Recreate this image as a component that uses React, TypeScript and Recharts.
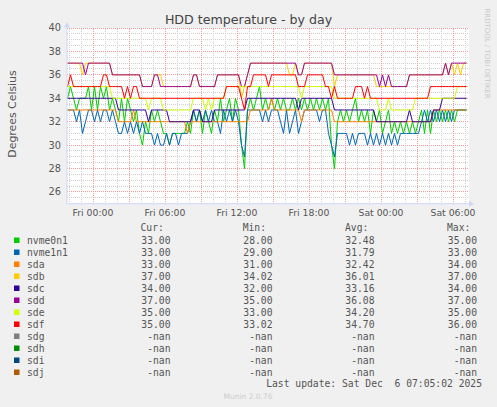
import {
  CartesianGrid,
  Line,
  LineChart,
  ReferenceDot,
  ReferenceLine,
  XAxis,
  YAxis,
} from "recharts";

const WIDTH = 497;
const HEIGHT = 407;

// hours relative to Fri 00:00, one sample every 15 minutes
const FIRST_SAMPLE_HOUR = -2.125;
const SAMPLE_STEP_HOURS = 0.25;
const X_DOMAIN: [number, number] = [-2.1667, 31.3333];
const Y_DOMAIN: [number, number] = [25, 40];

const timeTicks = [0, 6, 12, 18, 24, 30];
const timeLabels = ["Fri 00:00", "Fri 06:00", "Fri 12:00", "Fri 18:00", "Sat 00:00", "Sat 06:00"];
const tempTicks = [26, 28, 30, 32, 34, 36, 38, 40];

const majorHourGrid = [0, 3, 6, 9, 12, 15, 18, 21, 24, 27, 30];
const minorHourGrid = [-2, -1, 1, 2, 4, 5, 7, 8, 10, 11, 13, 14, 16, 17, 19, 20, 22, 23, 25, 26, 28, 29, 31];
const minorTempGrid = [
  25.5, 26.5, 27, 27.5, 28.5, 29, 29.5, 30.5, 31, 31.5, 32.5, 33, 33.5, 34.5, 35, 35.5, 36.5, 37, 37.5,
  38.5, 39, 39.5,
];

const nvme0n1 = [
  34, 35, 34, 33, 34, 34, 34, 35, 33, 35,
  33, 35, 34, 35, 33, 34, 33, 32, 34, 32,
  34, 33, 32, 33, 31, 30, 32, 31, 33, 32,
  33, 32, 31, 31, 30, 31, 31, 31, 31, 31,
  32, 31, 33, 32, 33, 31, 33, 32, 31, 33,
  32, 34, 32, 33, 34, 32, 34, 33, 30, 28,
  33, 34, 33, 34, 35, 33, 34, 33, 34, 33,
  34, 33, 34, 33, 33, 34, 33, 34, 33, 34,
  33, 34, 33, 34, 33, 34, 33, 34, 30, 28,
  32, 33, 32, 33, 32, 33, 34, 32, 33, 32,
  33, 31, 33, 32, 33, 31, 32, 33, 31, 32,
  31, 32, 31, 32, 31, 32, 31, 32, 33, 31,
  33, 31, 33, 32, 33, 32, 33, 32, 33, 32,
  33, 33, 33, 33,
];

const nvme1n1 = [
  33, 33, 33, 32, 33, 31, 32, 33, 33, 32,
  33, 32, 33, 33, 32, 33, 32, 31, 31, 32,
  31, 32, 31, 32, 31, 32, 31, 31, 31, 30,
  31, 30, 30, 31, 30, 31, 31, 30, 31, 31,
  31, 32, 33, 32, 33, 32, 33, 32, 33, 32,
  32, 31, 33, 32, 33, 32, 33, 32, 30, 29,
  33, 33, 33, 33, 33, 32, 33, 32, 33, 33,
  33, 32, 31, 33, 31, 32, 33, 31, 32, 33,
  33, 33, 33, 33, 32, 33, 33, 31, 30, 29,
  31, 31, 31, 31, 30, 31, 30, 31, 31, 31,
  30, 31, 30, 31, 30, 31, 30, 31, 30, 31,
  30, 31, 31, 31, 31, 31, 31, 31, 32, 33,
  32, 33, 32, 33, 32, 33, 32, 33, 32, 33,
  33, 33, 33, 33,
];

const sda = [
  33, 33, 33, 33, 33, 33, 33, 33, 33, 33,
  33, 33, 33, 33, 33, 33, 33, 32, 32, 32,
  32, 32, 33, 32, 32, 32, 32, 32, 32, 32,
  32, 32, 32, 32, 32, 32, 32, 32, 32, 32,
  31, 32, 32, 32, 32, 32, 32, 32, 32, 32,
  32, 32, 32, 32, 32, 32, 32, 32, 32, 32,
  32, 33, 33, 33, 33, 33, 33, 33, 34, 33,
  33, 33, 33, 33, 33, 33, 33, 33, 32, 33,
  33, 33, 33, 33, 33, 33, 33, 33, 33, 32,
  32, 32, 32, 32, 32, 32, 32, 32, 32, 32,
  32, 32, 32, 32, 32, 32, 32, 32, 32, 32,
  32, 32, 32, 32, 32, 32, 32, 32, 32, 32,
  32, 32, 33, 33, 33, 33, 33, 33, 33, 33,
  33, 33, 33, 33,
];

const sdb = [
  37, 37, 37, 37, 37, 36, 37, 37, 37, 37,
  37, 37, 37, 37, 37, 36, 36, 36, 36, 36,
  36, 36, 36, 36, 36, 35, 35, 35, 35, 36,
  36, 36, 35, 35, 35, 35, 35, 35, 35, 35,
  35, 35, 36, 36, 35, 35, 35, 35, 35, 35,
  36, 36, 36, 36, 36, 36, 36, 36, 34, 35,
  36, 37, 37, 37, 37, 37, 37, 37, 37, 37,
  37, 37, 37, 37, 36, 36, 37, 36, 36, 37,
  37, 37, 37, 37, 37, 37, 37, 37, 37, 35,
  36, 36, 36, 36, 36, 36, 36, 36, 36, 36,
  36, 36, 36, 35, 35, 35, 35, 35, 35, 35,
  35, 35, 35, 35, 36, 36, 36, 36, 36, 36,
  36, 36, 36, 36, 36, 36, 37, 36, 37, 36,
  37, 36, 37, 37,
];

const sdc = [
  34, 34, 34, 34, 34, 34, 34, 34, 34, 34,
  34, 34, 34, 34, 34, 34, 34, 33, 33, 33,
  33, 33, 33, 33, 33, 33, 33, 32, 33, 33,
  33, 33, 33, 33, 32, 32, 32, 32, 32, 32,
  32, 32, 33, 33, 33, 32, 32, 32, 32, 33,
  33, 33, 33, 33, 33, 33, 33, 33, 33, 33,
  34, 34, 34, 34, 34, 34, 34, 34, 34, 34,
  34, 34, 34, 34, 34, 34, 34, 33, 34, 34,
  34, 34, 34, 34, 34, 34, 34, 34, 34, 33,
  33, 33, 33, 33, 33, 33, 33, 33, 33, 33,
  33, 33, 33, 32, 32, 32, 32, 32, 32, 32,
  32, 32, 32, 32, 33, 32, 32, 32, 32, 32,
  32, 32, 33, 33, 33, 34, 34, 34, 34, 34,
  34, 34, 34, 34,
];

const sdd = [
  37, 37, 37, 37, 37, 37, 36, 37, 37, 37,
  37, 37, 37, 37, 37, 36, 36, 36, 36, 36,
  36, 36, 36, 36, 36, 35, 35, 35, 35, 36,
  36, 35, 35, 35, 35, 35, 35, 35, 35, 35,
  35, 35, 36, 36, 35, 35, 35, 35, 35, 35,
  36, 36, 36, 36, 36, 36, 36, 36, 35, 35,
  36, 37, 37, 37, 37, 37, 37, 37, 37, 37,
  37, 37, 37, 37, 37, 37, 37, 36, 36, 37,
  37, 37, 37, 37, 37, 37, 37, 37, 37, 36,
  36, 36, 36, 36, 36, 36, 36, 36, 36, 36,
  36, 36, 36, 36, 35, 36, 35, 36, 35, 35,
  35, 35, 35, 35, 36, 36, 36, 36, 36, 36,
  36, 36, 36, 36, 36, 36, 37, 36, 37, 37,
  37, 37, 37, 37,
];

const sde = [
  35, 35, 35, 35, 35, 35, 35, 35, 35, 35,
  35, 35, 35, 35, 35, 34, 34, 34, 34, 34,
  34, 34, 34, 34, 34, 34, 34, 33, 34, 34,
  34, 34, 33, 33, 33, 33, 33, 33, 33, 33,
  33, 33, 34, 34, 34, 34, 33, 34, 33, 34,
  34, 34, 34, 35, 35, 35, 35, 35, 35, 35,
  35, 35, 35, 35, 35, 35, 35, 35, 35, 35,
  35, 35, 35, 35, 35, 35, 35, 35, 34, 35,
  35, 35, 35, 35, 35, 35, 35, 35, 35, 34,
  34, 34, 34, 34, 34, 34, 34, 34, 34, 34,
  34, 34, 34, 34, 33, 33, 33, 34, 33, 33,
  33, 33, 33, 33, 33, 33, 34, 34, 34, 34,
  34, 34, 34, 34, 34, 34, 34, 34, 34, 34,
  35, 35, 35, 35,
];

const sdf = [
  35, 36, 35, 35, 35, 35, 35, 35, 35, 35,
  35, 35, 36, 36, 35, 35, 35, 35, 35, 34,
  35, 34, 35, 35, 34, 34, 34, 34, 34, 34,
  34, 34, 34, 34, 34, 34, 34, 34, 34, 34,
  34, 34, 34, 34, 34, 34, 34, 34, 34, 34,
  34, 34, 34, 35, 35, 35, 35, 35, 34, 33,
  35, 35, 36, 36, 36, 36, 36, 35, 36, 36,
  36, 36, 36, 36, 36, 36, 36, 35, 35, 35,
  36, 36, 36, 36, 36, 36, 35, 35, 34, 35,
  34, 34, 34, 34, 34, 34, 35, 35, 35, 34,
  35, 34, 34, 34, 34, 34, 34, 34, 34, 34,
  34, 34, 34, 34, 34, 34, 34, 34, 34, 34,
  34, 35, 35, 35, 35, 35, 35, 35, 35, 35,
  35, 35, 35, 35,
];

// legend table (sdg..sdj have no samples)
const legendNames = ["nvme0n1", "nvme1n1", "sda", "sdb", "sdc", "sdd", "sde", "sdf", "sdg", "sdh", "sdi", "sdj"];
const legendColors = [
  "#00cc00", "#0066b3", "#ff8000", "#ffcc00", "#330099", "#990099",
  "#ccff00", "#ff0000", "#808080", "#008f00", "#00487d", "#b35a00",
];
const curValues = ["33.00", "33.00", "33.00", "37.00", "34.00", "37.00", "35.00", "35.00", "-nan", "-nan", "-nan", "-nan"];
const minValues = ["28.00", "29.00", "31.00", "34.02", "32.00", "35.00", "33.00", "33.02", "-nan", "-nan", "-nan", "-nan"];
const avgValues = ["32.48", "31.79", "32.42", "36.01", "33.16", "36.08", "34.20", "34.70", "-nan", "-nan", "-nan", "-nan"];
const maxValues = ["35.00", "33.00", "34.00", "37.00", "34.00", "37.00", "35.00", "36.00", "-nan", "-nan", "-nan", "-nan"];

const series: Array<[string, number[]]> = [
  ["nvme0n1", nvme0n1],
  ["nvme1n1", nvme1n1],
  ["sda", sda],
  ["sdb", sdb],
  ["sdc", sdc],
  ["sdd", sdd],
  ["sde", sde],
  ["sdf", sdf],
];

const rows = nvme0n1.map((_, i) => {
  const row: Record<string, number> = { t: FIRST_SAMPLE_HOUR + i * SAMPLE_STEP_HOURS };
  series.forEach(([name, values]) => {
    row[name] = values[i];
  });
  return row;
});

const AXIS = "#cfd6f8";
const MINOR_GRID = "#cfcfcf";
const MAJOR_GRID = "#f09a9a";
const SANS = "'DejaVu Sans', sans-serif";
const MONO = "'DejaVu Sans Mono', monospace";

function RightArrow({ cx, cy }: { cx?: number; cy?: number }) {
  if (cx == null || cy == null) return null;
  return <path d={`M${cx},${cy - 3} L${cx + 5},${cy} L${cx},${cy + 3} Z`} fill={AXIS} />;
}

function UpArrow({ cx, cy }: { cx?: number; cy?: number }) {
  if (cx == null || cy == null) return null;
  return <path d={`M${cx - 3},${cy - 0.5} L${cx},${cy - 6} L${cx + 3},${cy - 0.5} Z`} fill={AXIS} />;
}

function TextLayer() {
  const colEnds = [170.5, 272.5, 374.5, 477];
  const colStarts = [140.5, 242.7, 345, 447];
  const headers = ["Cur:", "Min:", "Avg:", "Max:"];
  const columns = [curValues, minValues, avgValues, maxValues];
  return (
    <svg width={WIDTH} height={HEIGHT} style={{ position: "absolute", left: 0, top: 0 }}>
      <text x={248.5} y={24} textAnchor="middle" fontFamily={SANS} fontSize={12.6} fill="#444">
        HDD temperature - by day
      </text>
      <text
        transform="translate(15.5,114) rotate(-90)"
        textAnchor="middle"
        fontFamily={SANS}
        fontSize={10.9}
        fill="#555"
      >
        Degrees Celsius
      </text>
      <text
        transform="translate(485,53.5) rotate(90)"
        textAnchor="middle"
        fontFamily={SANS}
        fontSize={7}
        fill="#c8c8c8"
      >
        RRDTOOL / TOBI OETIKER
      </text>
      <g fontFamily={MONO} fontSize={9.7} fill="#555">
        {headers.map((h, c) => (
          <text key={h} x={colStarts[c]} y={230.5}>
            {h}
          </text>
        ))}
        {legendNames.map((name, k) => {
          const y = 243.5 + k * 12;
          return (
            <g key={name}>
              <rect x={14} y={y - 6} width={5.5} height={5.5} fill={legendColors[k]} />
              <text x={27} y={y}>
                {name}
              </text>
              {columns.map((col, c) => (
                <text key={c} x={colEnds[c]} y={y} textAnchor="end">
                  {col[k]}
                </text>
              ))}
            </g>
          );
        })}
        <text x={482} y={387} textAnchor="end" xmlSpace="preserve" style={{ whiteSpace: "pre" }}>
          {"Last update: Sat Dec  6 07:05:02 2025"}
        </text>
      </g>
      <text x={248} y={399} textAnchor="middle" fontFamily={SANS} fontSize={7.5} fill="#cccccc">
        Munin 2.0.76
      </text>
    </svg>
  );
}

export default function App() {
  return (
    <div
      style={{
        position: "absolute",
        left: 0,
        top: 0,
        width: WIDTH,
        height: HEIGHT,
        background: "#f0f0f0",
        overflow: "hidden",
      }}
    >
      <TextLayer />
      <div style={{ position: "absolute", left: 0, top: 0 }}>
        <LineChart
          width={WIDTH}
          height={HEIGHT}
          data={rows}
          margin={{ top: 28, right: 28, left: 0, bottom: 173.3 }}
        >
          <CartesianGrid fill="#ffffff" horizontal={false} vertical={false} />
          {minorHourGrid.map((h) => (
            <ReferenceLine key={`mh${h}`} x={h} stroke={MINOR_GRID} strokeDasharray="1 1" shapeRendering="crispEdges" />
          ))}
          {minorTempGrid.map((v) => (
            <ReferenceLine key={`mt${v}`} y={v} stroke={MINOR_GRID} strokeDasharray="1 1" shapeRendering="crispEdges" />
          ))}
          {majorHourGrid.map((h) => (
            <ReferenceLine key={`Mh${h}`} x={h} stroke={MAJOR_GRID} strokeDasharray="1 1" shapeRendering="crispEdges" />
          ))}
          {tempTicks.map((v) => (
            <ReferenceLine key={`Mt${v}`} y={v} stroke={MAJOR_GRID} strokeDasharray="1 1" shapeRendering="crispEdges" />
          ))}
          <XAxis
            type="number"
            dataKey="t"
            domain={X_DOMAIN}
            allowDataOverflow
            ticks={timeTicks}
            interval={0}
            tickFormatter={(v: number) => timeLabels[timeTicks.indexOf(v)] ?? ""}
            height={30}
            tickSize={6}
            tickMargin={0}
            tickLine={false}
            axisLine={{ stroke: AXIS }}
            tick={{ fontSize: 9.3, fill: "#555", fontFamily: SANS }}
          />
          <YAxis
            type="number"
            domain={Y_DOMAIN}
            allowDataOverflow
            ticks={tempTicks}
            interval={0}
            width={67}
            tickSize={6}
            tickMargin={0}
            tickLine={false}
            axisLine={{ stroke: AXIS }}
            tick={{ fontSize: 9.8, fill: "#555", fontFamily: SANS }}
          />
          {series.map(([name], k) => (
            <Line
              key={name}
              type="linear"
              dataKey={name}
              stroke={legendColors[k]}
              strokeWidth={1}
              dot={false}
              activeDot={false}
              isAnimationActive={false}
            />
          ))}
          <ReferenceDot x={X_DOMAIN[1]} y={Y_DOMAIN[0]} r={0} ifOverflow="visible" shape={<RightArrow />} />
          <ReferenceDot x={X_DOMAIN[0]} y={Y_DOMAIN[1]} r={0} ifOverflow="visible" shape={<UpArrow />} />
        </LineChart>
      </div>
    </div>
  );
}
